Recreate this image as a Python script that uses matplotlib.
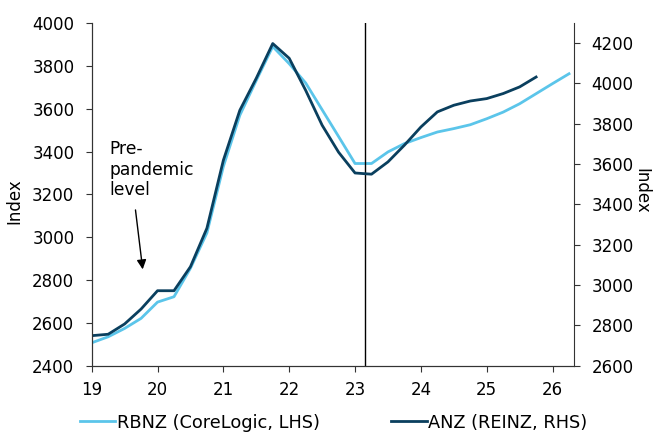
import numpy as np
import matplotlib.pyplot as plt

# quarterly dates (year, 2-digit)
rbnz_x = [19.0, 19.25, 19.5, 19.75, 20.0, 20.25, 20.5, 20.75, 21.0, 21.25, 21.5,
          21.75, 22.0, 22.25, 22.5, 22.75, 23.0, 23.25, 23.5, 23.75, 24.0, 24.25,
          24.5, 24.75, 25.0, 25.25, 25.5, 25.75, 26.0, 26.25]
rbnz_y = [2507, 2535, 2574, 2621, 2697, 2722, 2855, 3020, 3330, 3569, 3732,
          3890, 3810, 3720, 3595, 3470, 3344, 3344, 3398, 3437, 3465, 3491,
          3507, 3525, 3553, 3584, 3623, 3670, 3717, 3763]

anz_x = [19.0, 19.25, 19.5, 19.75, 20.0, 20.25, 20.5, 20.75, 21.0, 21.25, 21.5,
         21.75, 22.0, 22.25, 22.5, 22.75, 23.0, 23.25, 23.5, 23.75, 24.0, 24.25,
         24.5, 24.75, 25.0, 25.25, 25.5, 25.75]
anz_y = [2749, 2756, 2807, 2881, 2972, 2972, 3091, 3282, 3619, 3867, 4026,
         4198, 4125, 3966, 3793, 3659, 3556, 3550, 3611, 3694, 3784, 3859,
         3892, 3913, 3925, 3950, 3983, 4032]

x_ticks = [19, 20, 21, 22, 23, 24, 25, 26]
forecast_start = 23.15

light = '#5bc5ea'
dark = '#0a3f5e'
spine_col = '#333333'

plt.rcParams['font.family'] = 'DejaVu Sans'
plt.rcParams['font.size'] = 12

fig = plt.figure(figsize=(6.62, 4.33), dpi=100)
ax = fig.add_axes([0.1385, 0.1554, 0.729, 0.7915])
ax2 = ax.twinx()

l1, = ax.plot(rbnz_x, rbnz_y, color=light, lw=2.0, label='RBNZ (CoreLogic, LHS)')
l2, = ax2.plot(anz_x, anz_y, color=dark, lw=2.0, label='ANZ (REINZ, RHS)')
ax.axvline(forecast_start, color='black', lw=1.0)

ax.set_xlim(19, 26.33)
ax.set_ylim(2400, 4000)
ax2.set_ylim(2600, 4300)
ax.set_xticks(x_ticks)
ax.set_yticks(np.arange(2400, 4001, 200))
ax2.set_yticks(np.arange(2600, 4201, 200))

for a in (ax, ax2):
    a.spines['top'].set_visible(False)
    for s in ('left', 'right', 'bottom'):
        a.spines[s].set_color(spine_col)
    a.tick_params(axis='y', direction='out', length=4.5, color=spine_col,
                  labelsize=12, pad=8)
ax.tick_params(axis='x', direction='out', length=4, color=spine_col,
               labelsize=12, pad=7)
ax.spines['right'].set_visible(False)

ax.set_ylabel('Index', fontsize=12)
ax.yaxis.set_label_coords(-0.142, 0.48)
ax2.set_ylabel('Index', fontsize=12, rotation=270, ha='center', va='center')
ax2.yaxis.set_label_coords(1.138, 0.51)

ax.annotate('', xy=(19.78, 2837), xytext=(19.66, 3140),
            arrowprops=dict(arrowstyle='-|>', color='black', lw=1.0,
                            mutation_scale=14))
ax.text(19.27, 3455, 'Pre-\npandemic\nlevel', fontsize=12.3, va='top',
        linespacing=1.2)

fig.legend(handles=[l1, l2], loc='center', ncol=2, frameon=False,
           bbox_to_anchor=(0.504, 0.024), fontsize=12.8, handlelength=2.0,
           handletextpad=0.1, columnspacing=4.0)

fig.savefig('out.png', dpi=100)
